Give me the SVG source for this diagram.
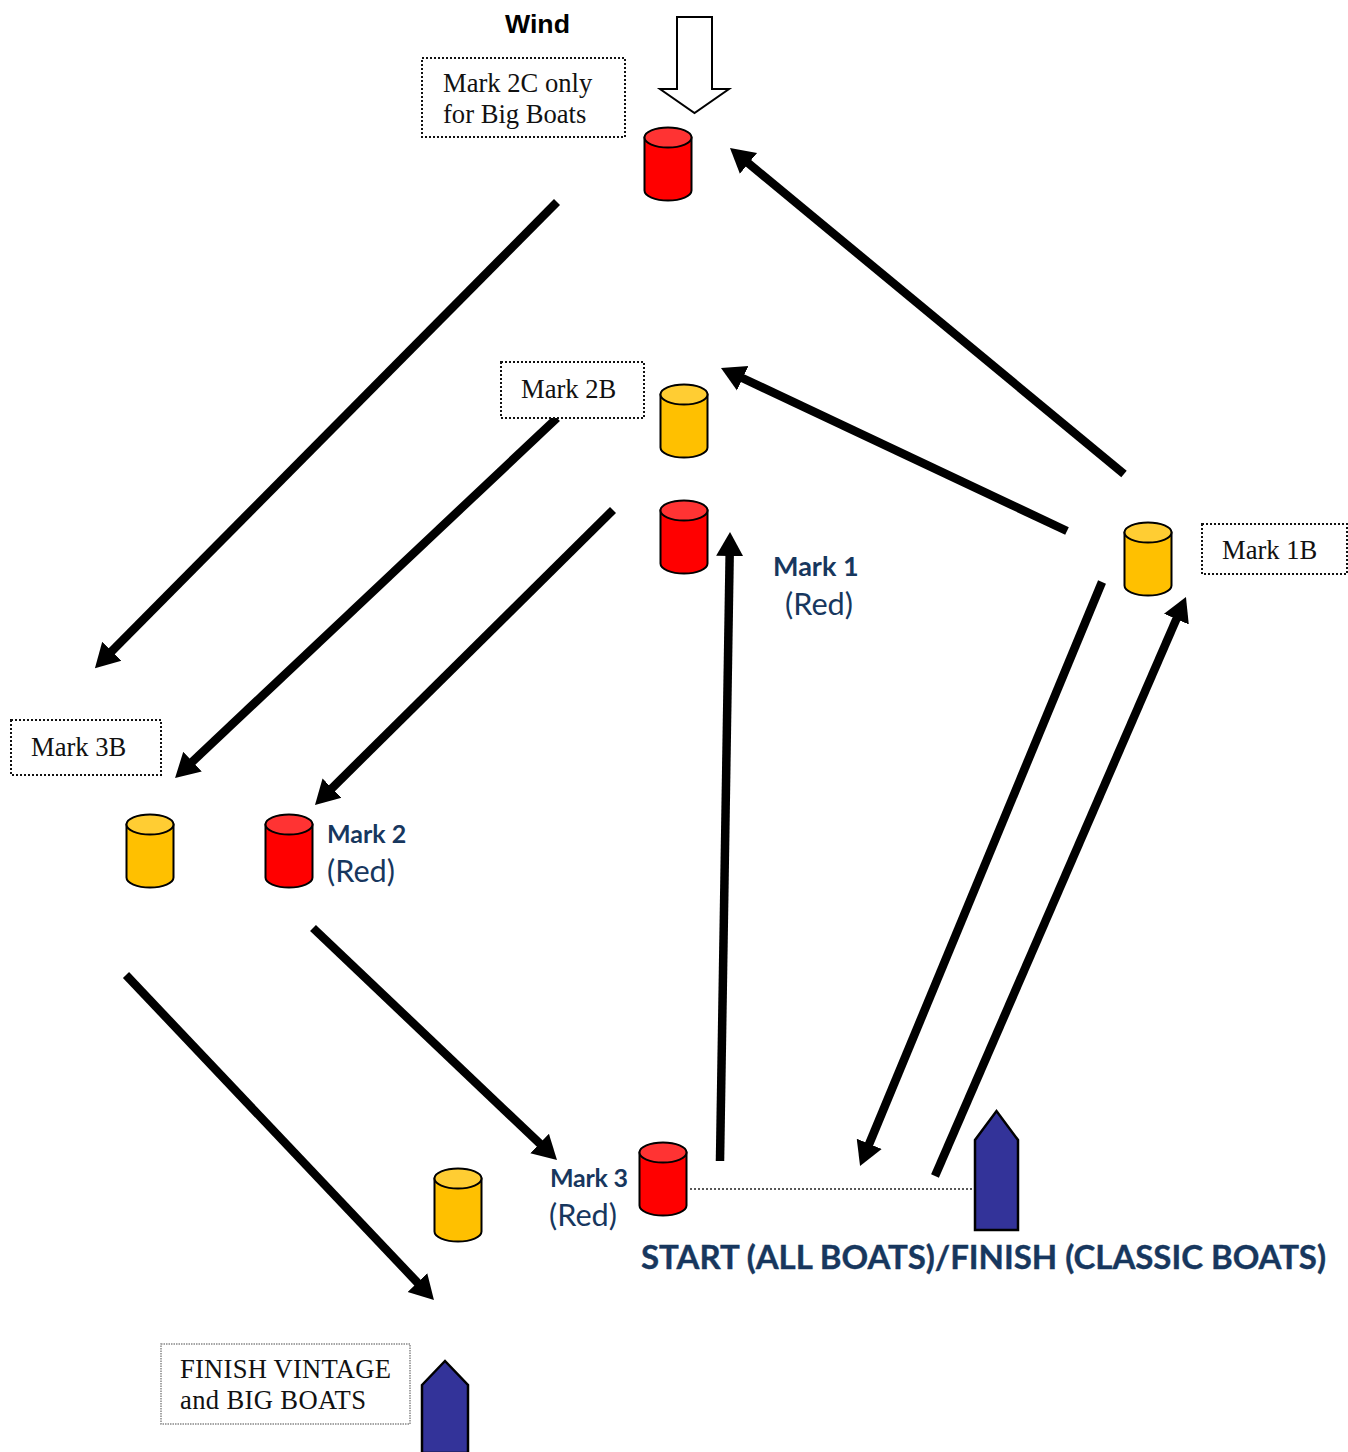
<svg xmlns="http://www.w3.org/2000/svg" width="1348" height="1452" viewBox="0 0 1348 1452">
<style>
.ser{font-family:"Liberation Serif",serif;font-size:26.6px;fill:#111}
.cal{font-family:Lato,"Open Sans",sans-serif;fill:#17375e}
.b{font-weight:700;font-size:25px}
.r{font-size:30.7px}
.box{fill:#fff;stroke:#111;stroke-width:2;stroke-dasharray:2 2}
.boat{fill:#333399;stroke:#000;stroke-width:2.5;stroke-linejoin:miter}
.body{stroke:#000;stroke-width:2}
.arrow{stroke:#000;stroke-width:8.5;fill:none;marker-end:url(#head)}
.rb{fill:#f00}.rt{fill:#ff3333}
.yb{fill:#ffc000}.yt{fill:#ffcd33}
</style>
<defs>
<marker id="head" markerUnits="userSpaceOnUse" markerWidth="30" markerHeight="30" refX="4" refY="15" orient="auto"><path d="M0,1.500 L24,15 L0,28.500 Z" fill="#000"/></marker>
<g id="cyl-r"><path class="body rb" d="M.5,10.500 V63.500 A23.500,10 0 0 0 47.500,63.500 V10.500 Z"/><ellipse class="body rt" cx="24" cy="10.500" rx="23.500" ry="10"/></g>
<g id="cyl-y"><path class="body yb" d="M.5,10.500 V63.500 A23.500,10 0 0 0 47.500,63.500 V10.500 Z"/><ellipse class="body yt" cx="24" cy="10.500" rx="23.500" ry="10"/></g>
</defs>
<g id="connectors">
<line class="arrow" x1="557" y1="202" x2="109" y2="654"/>
<line class="arrow" x1="557" y1="418" x2="189.6" y2="764.3"/>
<line class="arrow" x1="613" y1="510" x2="329.2" y2="790.9"/>
<line class="arrow" x1="720" y1="1161" x2="729.7" y2="552"/>
<line class="arrow" x1="313" y1="928" x2="542.5" y2="1146.2"/>
<line class="arrow" x1="126" y1="975" x2="420.2" y2="1285.5"/>
<line class="arrow" x1="1124" y1="474" x2="745.4" y2="160.8"/>
<line class="arrow" x1="1067" y1="531" x2="739.1" y2="376.5"/>
<line class="arrow" x1="1102" y1="582" x2="867.7" y2="1147.5"/>
<line class="arrow" x1="935" y1="1176" x2="1178" y2="615.4"/>
<line x1="690" y1="1189" x2="974" y2="1189" stroke="#222" stroke-width="1.5" stroke-dasharray="2 2"/>
</g>
<g id="wind"><text x="505" y="33" font-family="Liberation Sans,sans-serif" font-weight="700" font-size="26.7" fill="#000">Wind</text>
<path d="M677,17 H712 V89 H729 L694.500,113 L660,89 H677 Z" fill="#fff" stroke="#000" stroke-width="2"/></g>
<g id="label-2c"><rect class="box" x="422" y="58" width="203" height="79"/><text class="ser" x="443" y="92">Mark 2C only</text><text class="ser" x="443" y="123">for Big Boats</text></g>
<g id="label-2b"><rect class="box" x="501" y="362" width="143" height="56"/><text class="ser" x="521" y="398">Mark 2B</text></g>
<g id="label-1b"><rect class="box" x="1202" y="524" width="145" height="50"/><text class="ser" x="1222" y="559">Mark 1B</text></g>
<g id="label-3b"><rect class="box" x="11" y="720" width="150" height="55"/><text class="ser" x="31" y="756">Mark 3B</text></g>
<g id="label-finish"><rect x="161" y="1344" width="249" height="80" fill="#fff" stroke="#888" stroke-width="1.500" stroke-dasharray="1.500 1"/><text class="ser" x="180" y="1378" textLength="211">FINISH VINTAGE</text><text class="ser" x="180" y="1409" textLength="186">and BIG BOATS</text></g>
<g id="mark-2c"><use href="#cyl-r" x="644" y="127"/></g>
<g id="mark-2b"><use href="#cyl-y" x="660" y="384"/></g>
<g id="mark-1"><use href="#cyl-r" x="660" y="500"/></g>
<g id="mark-1b"><use href="#cyl-y" x="1124" y="522"/></g>
<g id="mark-3b"><use href="#cyl-y" x="126" y="814"/></g>
<g id="mark-2"><use href="#cyl-r" x="265" y="814"/></g>
<g id="mark-3"><use href="#cyl-r" x="639" y="1142"/></g>
<g id="mark-3y"><use href="#cyl-y" x="434" y="1168"/></g>
<g id="boat-start"><path class="boat" d="M975,1140 L996.500,1111 L1018,1140 V1230 H975 Z"/></g>
<g id="boat-finish"><path class="boat" d="M422,1385 L445,1361 L468,1385 V1453 H422 Z"/></g>
<g id="label-mark1"><text class="cal b" x="773" y="576" style="font-size:27px">Mark 1</text><text class="cal r" x="785" y="615">(Red)</text></g>
<g id="label-mark2"><text class="cal b" x="327" y="843">Mark 2</text><text class="cal r" x="327" y="882">(Red)</text></g>
<g id="label-mark3"><text class="cal b" x="550" y="1187" textLength="78">Mark 3</text><text class="cal r" x="549" y="1226">(Red)</text></g>
<g id="label-start"><text class="cal" x="641" y="1269" font-weight="700" font-size="33" textLength="685" stroke="#17375e" stroke-width=".4">START (ALL BOATS)/FINISH (CLASSIC BOATS)</text></g>
</svg>
